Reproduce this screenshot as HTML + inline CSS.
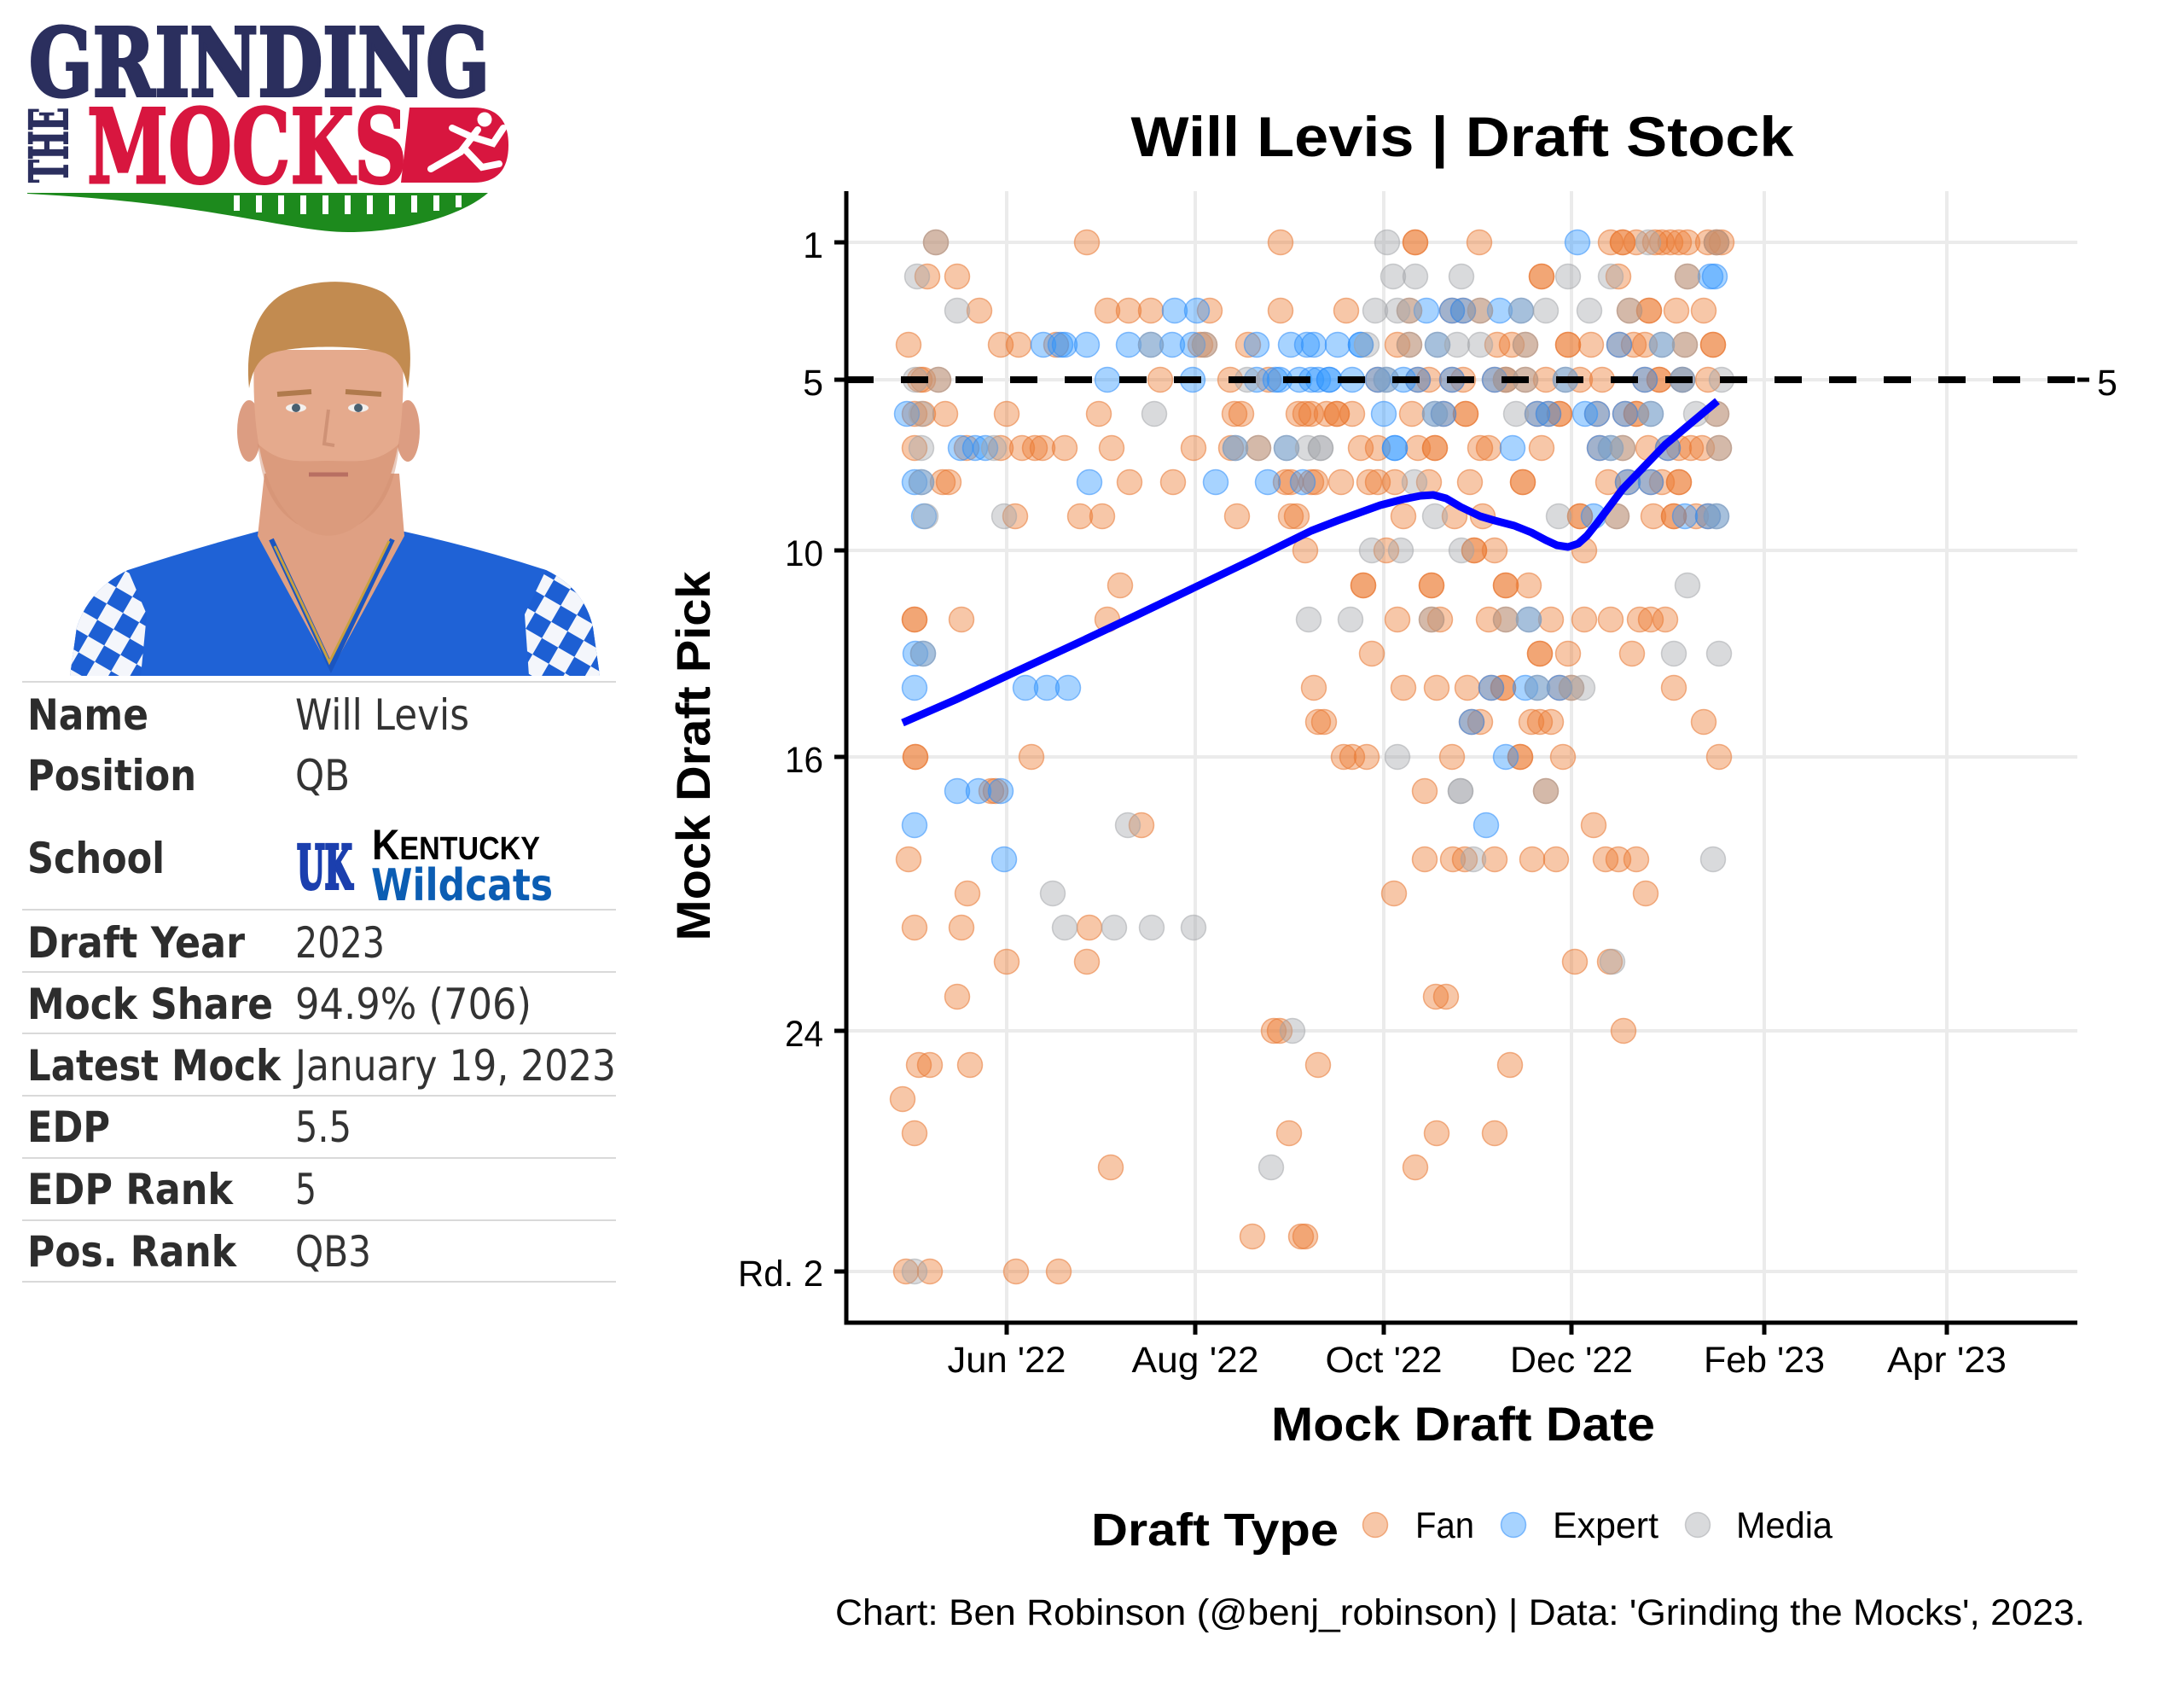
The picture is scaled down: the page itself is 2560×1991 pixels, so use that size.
<!DOCTYPE html>
<html><head><meta charset="utf-8"><style>
html,body{margin:0;padding:0;background:#fff;}
svg{display:block;}
.f{fill:rgba(236,122,48,0.42);stroke:rgba(232,118,50,0.55);stroke-width:1.5;}
.e{fill:rgba(45,150,255,0.42);stroke:rgba(45,140,250,0.55);stroke-width:1.5;}
.m{fill:rgba(165,168,172,0.42);stroke:rgba(160,162,166,0.5);stroke-width:1.5;}
.t{font-family:"Liberation Sans","DejaVu Sans",sans-serif;fill:#000;}
.tb{font-family:"Liberation Sans","DejaVu Sans",sans-serif;font-weight:bold;fill:#000;}
.lab{font-family:"DejaVu Sans","Liberation Sans",sans-serif;font-weight:bold;fill:#2d2d2d;font-size:50px;}
.val{font-family:"DejaVu Sans","Liberation Sans",sans-serif;fill:#333;font-size:50px;}
</style></head><body>
<svg width="2560" height="1991" viewBox="0 0 2560 1991" xmlns="http://www.w3.org/2000/svg">
<defs>
<pattern id="chk" width="44" height="44" patternUnits="userSpaceOnUse" patternTransform="rotate(30)">
<rect width="44" height="44" fill="#1d5fd3"/><rect width="22" height="22" fill="#f4f6fb"/><rect x="22" y="22" width="22" height="22" fill="#f4f6fb"/>
</pattern>
</defs>
<rect width="2560" height="1991" fill="#fff"/>

<!-- LOGO -->
<text x="34" y="112" font-family="DejaVu Serif, Liberation Serif, serif" font-weight="bold" font-size="110" fill="#2b2f5e" stroke="#2b2f5e" stroke-width="4" textLength="540" lengthAdjust="spacingAndGlyphs">GRINDING</text>
<text transform="translate(79,214) rotate(-90)" font-family="DejaVu Serif, Liberation Serif, serif" font-weight="bold" font-size="62" fill="#2b2f5e" stroke="#2b2f5e" stroke-width="2" textLength="88" lengthAdjust="spacingAndGlyphs">THE</text>
<path d="M480,126 L555,126 Q596,126 596,170 Q596,214 555,214 L470,214 Z" fill="#d8163f"/>
<text x="102" y="214" font-family="DejaVu Serif, Liberation Serif, serif" font-weight="bold" font-size="120" fill="#d8163f" stroke="#d8163f" stroke-width="3" textLength="375" lengthAdjust="spacingAndGlyphs">MOCKS</text>
<g fill="#fff" stroke="#fff" stroke-linecap="round">
<circle cx="568" cy="140" r="8"/>
<path d="M560,152 L540,178 L505,198 M545,175 L565,196 L585,192 M552,160 L578,168 L590,150 M552,160 L530,150" stroke-width="8" fill="none"/>
</g>
<path d="M32,226 L572,226 C545,250 480,272 408,272 C340,272 250,238 32,227 Z" fill="#1d8a1d"/>
<g fill="#fff">
<rect x="274" y="229" width="7" height="18"/><rect x="300" y="229" width="7" height="20"/><rect x="326" y="229" width="7" height="22"/><rect x="352" y="229" width="7" height="22"/><rect x="378" y="229" width="7" height="22"/><rect x="404" y="229" width="7" height="22"/><rect x="430" y="229" width="7" height="22"/><rect x="456" y="229" width="7" height="22"/><rect x="482" y="229" width="7" height="20"/><rect x="508" y="229" width="7" height="18"/><rect x="534" y="229" width="7" height="14"/>
</g>

<!-- PHOTO -->
<path d="M82,792 L90,735 Q105,690 150,668 Q230,642 305,622 L388,786 L470,622 Q560,642 640,668 Q685,690 695,735 L703,792 Z" fill="#1f62d6"/>
<path d="M82,792 L90,735 Q105,690 150,668 L172,720 L165,792 Z" fill="url(#chk)"/>
<path d="M703,792 L695,735 Q685,690 640,668 L615,720 L620,792 Z" fill="url(#chk)"/>
<path d="M310,555 L468,555 L474,628 L388,786 L302,628 Z" fill="#dfa083"/>
<path d="M318,632 L388,782 L460,632" fill="none" stroke="#1a55c0" stroke-width="6"/>
<path d="M322,640 Q360,720 386,776 Q414,720 456,634" fill="none" stroke="#c9a040" stroke-width="3"/>
<ellipse cx="292" cy="505" rx="14" ry="36" fill="#dc9d82"/>
<ellipse cx="478" cy="505" rx="14" ry="36" fill="#dc9d82"/>
<path d="M298,410 C294,520 310,580 350,615 C372,632 398,632 420,615 C460,580 476,520 472,410 Z" fill="#e5aa8d"/>
<path d="M302,520 C307,575 325,600 350,615 C372,632 398,632 420,615 C445,600 463,575 468,520 C440,545 420,540 385,540 C350,540 330,545 302,520 Z" fill="#cf8a6a" opacity="0.45"/>
<path d="M292,455 C286,395 305,352 345,338 C380,326 420,328 448,342 C478,360 486,405 478,455 C474,432 466,420 452,414 C420,404 350,404 318,414 C304,420 296,432 292,455 Z" fill="#c28b50"/>
<path d="M325,462 L365,459 M405,459 L447,462" stroke="#b07a4c" stroke-width="6" fill="none"/>
<ellipse cx="347" cy="478" rx="12" ry="5" fill="#f3f0ee"/><circle cx="347" cy="478" r="5" fill="#4a6070"/>
<ellipse cx="420" cy="478" rx="12" ry="5" fill="#f3f0ee"/><circle cx="420" cy="478" r="5" fill="#4a6070"/>
<path d="M385,480 L380,520 L392,522" stroke="#cf9276" stroke-width="4" fill="none"/>
<path d="M362,556 L408,556" stroke="#b86f62" stroke-width="5"/>

<!-- TABLE -->
<g stroke="#d9d9d9" stroke-width="2">
<line x1="26" y1="799" x2="722" y2="799"/><line x1="26" y1="1066" x2="722" y2="1066"/><line x1="26" y1="1139" x2="722" y2="1139"/><line x1="26" y1="1211" x2="722" y2="1211"/><line x1="26" y1="1284" x2="722" y2="1284"/><line x1="26" y1="1357" x2="722" y2="1357"/><line x1="26" y1="1430" x2="722" y2="1430"/><line x1="26" y1="1502" x2="722" y2="1502"/>
</g>
<text class="lab" x="32" y="855" textLength="142" lengthAdjust="spacingAndGlyphs">Name</text>
<text class="lab" x="32" y="926" textLength="198" lengthAdjust="spacingAndGlyphs">Position</text>
<text class="lab" x="32" y="1023" textLength="161" lengthAdjust="spacingAndGlyphs">School</text>
<text class="lab" x="32" y="1122" textLength="255" lengthAdjust="spacingAndGlyphs">Draft Year</text>
<text class="lab" x="32" y="1194" textLength="288" lengthAdjust="spacingAndGlyphs">Mock Share</text>
<text class="lab" x="32" y="1266" textLength="297" lengthAdjust="spacingAndGlyphs">Latest Mock</text>
<text class="lab" x="32" y="1338" textLength="97" lengthAdjust="spacingAndGlyphs">EDP</text>
<text class="lab" x="32" y="1411" textLength="241" lengthAdjust="spacingAndGlyphs">EDP Rank</text>
<text class="lab" x="32" y="1484" textLength="245" lengthAdjust="spacingAndGlyphs">Pos. Rank</text>
<text class="val" x="346" y="855" textLength="204" lengthAdjust="spacingAndGlyphs">Will Levis</text>
<text class="val" x="346" y="926" textLength="64" lengthAdjust="spacingAndGlyphs">QB</text>
<text class="val" x="346" y="1122" textLength="105" lengthAdjust="spacingAndGlyphs">2023</text>
<text class="val" x="346" y="1194" textLength="277" lengthAdjust="spacingAndGlyphs">94.9% (706)</text>
<text class="val" x="346" y="1266" textLength="376" lengthAdjust="spacingAndGlyphs">January 19, 2023</text>
<text class="val" x="346" y="1338" textLength="66" lengthAdjust="spacingAndGlyphs">5.5</text>
<text class="val" x="346" y="1411" textLength="25" lengthAdjust="spacingAndGlyphs">5</text>
<text class="val" x="346" y="1484" textLength="89" lengthAdjust="spacingAndGlyphs">QB3</text>
<text x="348" y="1041" font-family="DejaVu Serif, Liberation Serif, serif" font-weight="bold" font-size="70" fill="#1b3fae" stroke="#1b3fae" stroke-width="4" textLength="65" lengthAdjust="spacingAndGlyphs">UK</text>
<text x="436" y="1007" font-family="Liberation Sans, DejaVu Sans, sans-serif" font-weight="bold" fill="#000" textLength="197" lengthAdjust="spacingAndGlyphs"><tspan font-size="50">K</tspan><tspan font-size="38">ENTUCKY</tspan></text>
<text x="435" y="1055" font-family="DejaVu Sans, Liberation Sans, sans-serif" font-weight="bold" font-size="52" fill="#0b5db3" textLength="213" lengthAdjust="spacingAndGlyphs">Wildcats</text>

<!-- CHART TITLE -->
<text class="tb" x="1714" y="183" font-size="66" text-anchor="middle" textLength="777" lengthAdjust="spacingAndGlyphs">Will Levis | Draft Stock</text>

<!-- GRID -->
<g stroke="#ebebeb" stroke-width="4">
<line x1="994" y1="284" x2="2435" y2="284"/><line x1="994" y1="445" x2="2435" y2="445"/><line x1="994" y1="645" x2="2435" y2="645"/><line x1="994" y1="887" x2="2435" y2="887"/><line x1="994" y1="1208" x2="2435" y2="1208"/><line x1="994" y1="1490" x2="2435" y2="1490"/>
<line x1="1180" y1="224" x2="1180" y2="1548"/><line x1="1401" y1="224" x2="1401" y2="1548"/><line x1="1622" y1="224" x2="1622" y2="1548"/><line x1="1842" y1="224" x2="1842" y2="1548"/><line x1="2068" y1="224" x2="2068" y2="1548"/><line x1="2282" y1="224" x2="2282" y2="1548"/>
</g>

<!-- DOTS: FAN -->
<g class="f">
<circle cx="1097" cy="284" r="14.5"/><circle cx="1274" cy="284" r="14.5"/><circle cx="1501" cy="284" r="14.5"/><circle cx="1659" cy="284" r="14.5"/><circle cx="1659" cy="284" r="14.5"/><circle cx="1734" cy="284" r="14.5"/><circle cx="1888" cy="284" r="14.5"/><circle cx="1902" cy="284" r="14.5"/><circle cx="1902" cy="284" r="14.5"/><circle cx="1918" cy="284" r="14.5"/><circle cx="1940" cy="284" r="14.5"/><circle cx="1948" cy="284" r="14.5"/><circle cx="1958" cy="284" r="14.5"/><circle cx="1968" cy="284" r="14.5"/><circle cx="1978" cy="284" r="14.5"/><circle cx="2002" cy="284" r="14.5"/><circle cx="2012" cy="284" r="14.5"/><circle cx="2012" cy="284" r="14.5"/><circle cx="2018" cy="284" r="14.5"/>
<circle cx="1087" cy="324" r="14.5"/><circle cx="1122" cy="324" r="14.5"/><circle cx="1807" cy="324" r="14.5"/><circle cx="1807" cy="324" r="14.5"/><circle cx="1897" cy="324" r="14.5"/><circle cx="1978" cy="324" r="14.5"/>
<circle cx="1148" cy="364" r="14.5"/><circle cx="1298" cy="364" r="14.5"/><circle cx="1323" cy="364" r="14.5"/><circle cx="1349" cy="364" r="14.5"/><circle cx="1418" cy="364" r="14.5"/><circle cx="1501" cy="364" r="14.5"/><circle cx="1578" cy="364" r="14.5"/><circle cx="1652" cy="364" r="14.5"/><circle cx="1702" cy="364" r="14.5"/><circle cx="1715" cy="364" r="14.5"/><circle cx="1735" cy="364" r="14.5"/><circle cx="1910" cy="364" r="14.5"/><circle cx="1933" cy="364" r="14.5"/><circle cx="1933" cy="364" r="14.5"/><circle cx="1965" cy="364" r="14.5"/><circle cx="1997" cy="364" r="14.5"/>
<circle cx="1065" cy="404" r="14.5"/><circle cx="1173" cy="404" r="14.5"/><circle cx="1194" cy="404" r="14.5"/><circle cx="1238" cy="404" r="14.5"/><circle cx="1407" cy="404" r="14.5"/><circle cx="1412" cy="404" r="14.5"/><circle cx="1463" cy="404" r="14.5"/><circle cx="1638" cy="404" r="14.5"/><circle cx="1652" cy="404" r="14.5"/><circle cx="1755" cy="404" r="14.5"/><circle cx="1772" cy="404" r="14.5"/><circle cx="1788" cy="404" r="14.5"/><circle cx="1838" cy="404" r="14.5"/><circle cx="1838" cy="404" r="14.5"/><circle cx="1865" cy="404" r="14.5"/><circle cx="1898" cy="404" r="14.5"/><circle cx="1915" cy="404" r="14.5"/><circle cx="1928" cy="404" r="14.5"/><circle cx="1975" cy="404" r="14.5"/><circle cx="2008" cy="404" r="14.5"/><circle cx="2008" cy="404" r="14.5"/>
<circle cx="1078" cy="445" r="14.5"/><circle cx="1082" cy="445" r="14.5"/><circle cx="1100" cy="445" r="14.5"/><circle cx="1360" cy="445" r="14.5"/><circle cx="1442" cy="445" r="14.5"/><circle cx="1487" cy="445" r="14.5"/><circle cx="1615" cy="445" r="14.5"/><circle cx="1662" cy="445" r="14.5"/><circle cx="1675" cy="445" r="14.5"/><circle cx="1702" cy="445" r="14.5"/><circle cx="1715" cy="445" r="14.5"/><circle cx="1752" cy="445" r="14.5"/><circle cx="1765" cy="445" r="14.5"/><circle cx="1765" cy="445" r="14.5"/><circle cx="1788" cy="445" r="14.5"/><circle cx="1812" cy="445" r="14.5"/><circle cx="1852" cy="445" r="14.5"/><circle cx="1878" cy="445" r="14.5"/><circle cx="1928" cy="445" r="14.5"/><circle cx="1945" cy="445" r="14.5"/><circle cx="1945" cy="445" r="14.5"/><circle cx="1972" cy="445" r="14.5"/><circle cx="2002" cy="445" r="14.5"/>
<circle cx="1072" cy="485" r="14.5"/><circle cx="1082" cy="485" r="14.5"/><circle cx="1108" cy="485" r="14.5"/><circle cx="1180" cy="485" r="14.5"/><circle cx="1288" cy="485" r="14.5"/><circle cx="1447" cy="485" r="14.5"/><circle cx="1455" cy="485" r="14.5"/><circle cx="1522" cy="485" r="14.5"/><circle cx="1530" cy="485" r="14.5"/><circle cx="1537" cy="485" r="14.5"/><circle cx="1555" cy="485" r="14.5"/><circle cx="1567" cy="485" r="14.5"/><circle cx="1567" cy="485" r="14.5"/><circle cx="1585" cy="485" r="14.5"/><circle cx="1655" cy="485" r="14.5"/><circle cx="1692" cy="485" r="14.5"/><circle cx="1718" cy="485" r="14.5"/><circle cx="1718" cy="485" r="14.5"/><circle cx="1802" cy="485" r="14.5"/><circle cx="1815" cy="485" r="14.5"/><circle cx="1828" cy="485" r="14.5"/><circle cx="1828" cy="485" r="14.5"/><circle cx="1872" cy="485" r="14.5"/><circle cx="1905" cy="485" r="14.5"/><circle cx="1918" cy="485" r="14.5"/><circle cx="1918" cy="485" r="14.5"/><circle cx="2012" cy="485" r="14.5"/>
<circle cx="1072" cy="525" r="14.5"/><circle cx="1133" cy="525" r="14.5"/><circle cx="1173" cy="525" r="14.5"/><circle cx="1198" cy="525" r="14.5"/><circle cx="1213" cy="525" r="14.5"/><circle cx="1222" cy="525" r="14.5"/><circle cx="1248" cy="525" r="14.5"/><circle cx="1303" cy="525" r="14.5"/><circle cx="1399" cy="525" r="14.5"/><circle cx="1443" cy="525" r="14.5"/><circle cx="1475" cy="525" r="14.5"/><circle cx="1595" cy="525" r="14.5"/><circle cx="1615" cy="525" r="14.5"/><circle cx="1662" cy="525" r="14.5"/><circle cx="1682" cy="525" r="14.5"/><circle cx="1682" cy="525" r="14.5"/><circle cx="1735" cy="525" r="14.5"/><circle cx="1745" cy="525" r="14.5"/><circle cx="1807" cy="525" r="14.5"/><circle cx="1875" cy="525" r="14.5"/><circle cx="1902" cy="525" r="14.5"/><circle cx="1932" cy="525" r="14.5"/><circle cx="1955" cy="525" r="14.5"/><circle cx="1968" cy="525" r="14.5"/><circle cx="1982" cy="525" r="14.5"/><circle cx="1995" cy="525" r="14.5"/><circle cx="2015" cy="525" r="14.5"/>
<circle cx="1105" cy="565" r="14.5"/><circle cx="1112" cy="565" r="14.5"/><circle cx="1324" cy="565" r="14.5"/><circle cx="1375" cy="565" r="14.5"/><circle cx="1507" cy="565" r="14.5"/><circle cx="1513" cy="565" r="14.5"/><circle cx="1537" cy="565" r="14.5"/><circle cx="1542" cy="565" r="14.5"/><circle cx="1572" cy="565" r="14.5"/><circle cx="1605" cy="565" r="14.5"/><circle cx="1615" cy="565" r="14.5"/><circle cx="1635" cy="565" r="14.5"/><circle cx="1675" cy="565" r="14.5"/><circle cx="1723" cy="565" r="14.5"/><circle cx="1785" cy="565" r="14.5"/><circle cx="1785" cy="565" r="14.5"/><circle cx="1885" cy="565" r="14.5"/><circle cx="1908" cy="565" r="14.5"/><circle cx="1935" cy="565" r="14.5"/><circle cx="1948" cy="565" r="14.5"/><circle cx="1968" cy="565" r="14.5"/><circle cx="1968" cy="565" r="14.5"/>
<circle cx="1190" cy="605" r="14.5"/><circle cx="1266" cy="605" r="14.5"/><circle cx="1292" cy="605" r="14.5"/><circle cx="1450" cy="605" r="14.5"/><circle cx="1513" cy="605" r="14.5"/><circle cx="1520" cy="605" r="14.5"/><circle cx="1645" cy="605" r="14.5"/><circle cx="1705" cy="605" r="14.5"/><circle cx="1738" cy="605" r="14.5"/><circle cx="1852" cy="605" r="14.5"/><circle cx="1852" cy="605" r="14.5"/><circle cx="1895" cy="605" r="14.5"/><circle cx="1938" cy="605" r="14.5"/><circle cx="1962" cy="605" r="14.5"/><circle cx="1962" cy="605" r="14.5"/><circle cx="1988" cy="605" r="14.5"/><circle cx="2002" cy="605" r="14.5"/>
<circle cx="1530" cy="645" r="14.5"/><circle cx="1625" cy="645" r="14.5"/><circle cx="1728" cy="645" r="14.5"/><circle cx="1728" cy="645" r="14.5"/><circle cx="1752" cy="645" r="14.5"/><circle cx="1857" cy="645" r="14.5"/>
<circle cx="1313" cy="686" r="14.5"/><circle cx="1598" cy="686" r="14.5"/><circle cx="1598" cy="686" r="14.5"/><circle cx="1678" cy="686" r="14.5"/><circle cx="1678" cy="686" r="14.5"/><circle cx="1765" cy="686" r="14.5"/><circle cx="1765" cy="686" r="14.5"/><circle cx="1792" cy="686" r="14.5"/>
<circle cx="1072" cy="726" r="14.5"/><circle cx="1072" cy="726" r="14.5"/><circle cx="1127" cy="726" r="14.5"/><circle cx="1298" cy="726" r="14.5"/><circle cx="1638" cy="726" r="14.5"/><circle cx="1678" cy="726" r="14.5"/><circle cx="1688" cy="726" r="14.5"/><circle cx="1745" cy="726" r="14.5"/><circle cx="1765" cy="726" r="14.5"/><circle cx="1818" cy="726" r="14.5"/><circle cx="1857" cy="726" r="14.5"/><circle cx="1888" cy="726" r="14.5"/><circle cx="1922" cy="726" r="14.5"/><circle cx="1935" cy="726" r="14.5"/><circle cx="1952" cy="726" r="14.5"/>
<circle cx="1608" cy="766" r="14.5"/><circle cx="1805" cy="766" r="14.5"/><circle cx="1805" cy="766" r="14.5"/><circle cx="1838" cy="766" r="14.5"/><circle cx="1913" cy="766" r="14.5"/>
<circle cx="1540" cy="806" r="14.5"/><circle cx="1645" cy="806" r="14.5"/><circle cx="1684" cy="806" r="14.5"/><circle cx="1720" cy="806" r="14.5"/><circle cx="1748" cy="806" r="14.5"/><circle cx="1762" cy="806" r="14.5"/><circle cx="1762" cy="806" r="14.5"/><circle cx="1828" cy="806" r="14.5"/><circle cx="1842" cy="806" r="14.5"/><circle cx="1962" cy="806" r="14.5"/>
<circle cx="1545" cy="846" r="14.5"/><circle cx="1552" cy="846" r="14.5"/><circle cx="1725" cy="846" r="14.5"/><circle cx="1735" cy="846" r="14.5"/><circle cx="1795" cy="846" r="14.5"/><circle cx="1805" cy="846" r="14.5"/><circle cx="1818" cy="846" r="14.5"/><circle cx="1997" cy="846" r="14.5"/>
<circle cx="1073" cy="887" r="14.5"/><circle cx="1073" cy="887" r="14.5"/><circle cx="1209" cy="887" r="14.5"/><circle cx="1575" cy="887" r="14.5"/><circle cx="1585" cy="887" r="14.5"/><circle cx="1602" cy="887" r="14.5"/><circle cx="1702" cy="887" r="14.5"/><circle cx="1782" cy="887" r="14.5"/><circle cx="1782" cy="887" r="14.5"/><circle cx="1832" cy="887" r="14.5"/><circle cx="2015" cy="887" r="14.5"/>
<circle cx="1162" cy="927" r="14.5"/><circle cx="1167" cy="927" r="14.5"/><circle cx="1670" cy="927" r="14.5"/><circle cx="1812" cy="927" r="14.5"/>
<circle cx="1338" cy="967" r="14.5"/><circle cx="1868" cy="967" r="14.5"/>
<circle cx="1065" cy="1007" r="14.5"/><circle cx="1670" cy="1007" r="14.5"/><circle cx="1703" cy="1007" r="14.5"/><circle cx="1717" cy="1007" r="14.5"/><circle cx="1752" cy="1007" r="14.5"/><circle cx="1796" cy="1007" r="14.5"/><circle cx="1824" cy="1007" r="14.5"/><circle cx="1882" cy="1007" r="14.5"/><circle cx="1897" cy="1007" r="14.5"/><circle cx="1918" cy="1007" r="14.5"/>
<circle cx="1134" cy="1047" r="14.5"/><circle cx="1634" cy="1047" r="14.5"/><circle cx="1929" cy="1047" r="14.5"/>
<circle cx="1072" cy="1087" r="14.5"/><circle cx="1127" cy="1087" r="14.5"/><circle cx="1277" cy="1087" r="14.5"/>
<circle cx="1180" cy="1127" r="14.5"/><circle cx="1274" cy="1127" r="14.5"/><circle cx="1846" cy="1127" r="14.5"/><circle cx="1887" cy="1127" r="14.5"/>
<circle cx="1122" cy="1168" r="14.5"/><circle cx="1683" cy="1168" r="14.5"/><circle cx="1695" cy="1168" r="14.5"/>
<circle cx="1493" cy="1208" r="14.5"/><circle cx="1500" cy="1208" r="14.5"/><circle cx="1903" cy="1208" r="14.5"/>
<circle cx="1077" cy="1248" r="14.5"/><circle cx="1090" cy="1248" r="14.5"/><circle cx="1137" cy="1248" r="14.5"/><circle cx="1545" cy="1248" r="14.5"/><circle cx="1770" cy="1248" r="14.5"/>
<circle cx="1058" cy="1288" r="14.5"/>
<circle cx="1072" cy="1328" r="14.5"/><circle cx="1511" cy="1328" r="14.5"/><circle cx="1684" cy="1328" r="14.5"/><circle cx="1752" cy="1328" r="14.5"/>
<circle cx="1302" cy="1368" r="14.5"/><circle cx="1659" cy="1368" r="14.5"/>
<circle cx="1468" cy="1449" r="14.5"/><circle cx="1525" cy="1449" r="14.5"/><circle cx="1530" cy="1449" r="14.5"/>
<circle cx="1062" cy="1490" r="14.5"/><circle cx="1090" cy="1490" r="14.5"/><circle cx="1191" cy="1490" r="14.5"/><circle cx="1241" cy="1490" r="14.5"/>
</g>

<!-- DOTS: EXPERT -->
<g class="e">
<circle cx="1849" cy="284" r="14.5"/>
<circle cx="2005" cy="324" r="14.5"/><circle cx="2010" cy="324" r="14.5"/>
<circle cx="1377" cy="364" r="14.5"/><circle cx="1403" cy="364" r="14.5"/><circle cx="1672" cy="364" r="14.5"/><circle cx="1702" cy="364" r="14.5"/><circle cx="1715" cy="364" r="14.5"/><circle cx="1758" cy="364" r="14.5"/><circle cx="1783" cy="364" r="14.5"/>
<circle cx="1223" cy="404" r="14.5"/><circle cx="1243" cy="404" r="14.5"/><circle cx="1248" cy="404" r="14.5"/><circle cx="1274" cy="404" r="14.5"/><circle cx="1323" cy="404" r="14.5"/><circle cx="1349" cy="404" r="14.5"/><circle cx="1374" cy="404" r="14.5"/><circle cx="1398" cy="404" r="14.5"/><circle cx="1473" cy="404" r="14.5"/><circle cx="1513" cy="404" r="14.5"/><circle cx="1532" cy="404" r="14.5"/><circle cx="1540" cy="404" r="14.5"/><circle cx="1568" cy="404" r="14.5"/><circle cx="1595" cy="404" r="14.5"/><circle cx="1595" cy="404" r="14.5"/><circle cx="1685" cy="404" r="14.5"/><circle cx="1898" cy="404" r="14.5"/><circle cx="1948" cy="404" r="14.5"/>
<circle cx="1298" cy="445" r="14.5"/><circle cx="1398" cy="445" r="14.5"/><circle cx="1473" cy="445" r="14.5"/><circle cx="1495" cy="445" r="14.5"/><circle cx="1500" cy="445" r="14.5"/><circle cx="1523" cy="445" r="14.5"/><circle cx="1537" cy="445" r="14.5"/><circle cx="1545" cy="445" r="14.5"/><circle cx="1558" cy="445" r="14.5"/><circle cx="1558" cy="445" r="14.5"/><circle cx="1585" cy="445" r="14.5"/><circle cx="1615" cy="445" r="14.5"/><circle cx="1625" cy="445" r="14.5"/><circle cx="1645" cy="445" r="14.5"/><circle cx="1662" cy="445" r="14.5"/><circle cx="1702" cy="445" r="14.5"/><circle cx="1752" cy="445" r="14.5"/><circle cx="1835" cy="445" r="14.5"/><circle cx="1928" cy="445" r="14.5"/><circle cx="1972" cy="445" r="14.5"/>
<circle cx="1063" cy="485" r="14.5"/><circle cx="1622" cy="485" r="14.5"/><circle cx="1682" cy="485" r="14.5"/><circle cx="1692" cy="485" r="14.5"/><circle cx="1802" cy="485" r="14.5"/><circle cx="1815" cy="485" r="14.5"/><circle cx="1858" cy="485" r="14.5"/><circle cx="1872" cy="485" r="14.5"/><circle cx="1905" cy="485" r="14.5"/><circle cx="1935" cy="485" r="14.5"/>
<circle cx="1126" cy="525" r="14.5"/><circle cx="1143" cy="525" r="14.5"/><circle cx="1155" cy="525" r="14.5"/><circle cx="1448" cy="525" r="14.5"/><circle cx="1508" cy="525" r="14.5"/><circle cx="1635" cy="525" r="14.5"/><circle cx="1635" cy="525" r="14.5"/><circle cx="1773" cy="525" r="14.5"/><circle cx="1875" cy="525" r="14.5"/><circle cx="1888" cy="525" r="14.5"/><circle cx="1955" cy="525" r="14.5"/>
<circle cx="1072" cy="565" r="14.5"/><circle cx="1080" cy="565" r="14.5"/><circle cx="1277" cy="565" r="14.5"/><circle cx="1425" cy="565" r="14.5"/><circle cx="1486" cy="565" r="14.5"/><circle cx="1527" cy="565" r="14.5"/><circle cx="1908" cy="565" r="14.5"/><circle cx="1935" cy="565" r="14.5"/>
<circle cx="1083" cy="605" r="14.5"/><circle cx="1868" cy="605" r="14.5"/><circle cx="1975" cy="605" r="14.5"/><circle cx="2002" cy="605" r="14.5"/><circle cx="2012" cy="605" r="14.5"/>
<circle cx="1792" cy="726" r="14.5"/>
<circle cx="1073" cy="766" r="14.5"/><circle cx="1082" cy="766" r="14.5"/>
<circle cx="1072" cy="806" r="14.5"/><circle cx="1202" cy="806" r="14.5"/><circle cx="1227" cy="806" r="14.5"/><circle cx="1252" cy="806" r="14.5"/><circle cx="1748" cy="806" r="14.5"/><circle cx="1788" cy="806" r="14.5"/><circle cx="1802" cy="806" r="14.5"/><circle cx="1828" cy="806" r="14.5"/>
<circle cx="1725" cy="846" r="14.5"/>
<circle cx="1765" cy="887" r="14.5"/>
<circle cx="1122" cy="927" r="14.5"/><circle cx="1147" cy="927" r="14.5"/><circle cx="1173" cy="927" r="14.5"/>
<circle cx="1072" cy="967" r="14.5"/><circle cx="1742" cy="967" r="14.5"/>
<circle cx="1177" cy="1007" r="14.5"/>
</g>

<!-- DOTS: MEDIA -->
<g class="m">
<circle cx="1097" cy="284" r="14.5"/><circle cx="1626" cy="284" r="14.5"/><circle cx="1932" cy="284" r="14.5"/><circle cx="2012" cy="284" r="14.5"/>
<circle cx="1075" cy="324" r="14.5"/><circle cx="1633" cy="324" r="14.5"/><circle cx="1659" cy="324" r="14.5"/><circle cx="1713" cy="324" r="14.5"/><circle cx="1838" cy="324" r="14.5"/><circle cx="1888" cy="324" r="14.5"/><circle cx="1978" cy="324" r="14.5"/>
<circle cx="1122" cy="364" r="14.5"/><circle cx="1612" cy="364" r="14.5"/><circle cx="1638" cy="364" r="14.5"/><circle cx="1652" cy="364" r="14.5"/><circle cx="1735" cy="364" r="14.5"/><circle cx="1783" cy="364" r="14.5"/><circle cx="1812" cy="364" r="14.5"/><circle cx="1863" cy="364" r="14.5"/><circle cx="1910" cy="364" r="14.5"/>
<circle cx="1349" cy="404" r="14.5"/><circle cx="1412" cy="404" r="14.5"/><circle cx="1602" cy="404" r="14.5"/><circle cx="1652" cy="404" r="14.5"/><circle cx="1685" cy="404" r="14.5"/><circle cx="1708" cy="404" r="14.5"/><circle cx="1735" cy="404" r="14.5"/><circle cx="1788" cy="404" r="14.5"/><circle cx="1948" cy="404" r="14.5"/><circle cx="1975" cy="404" r="14.5"/>
<circle cx="1073" cy="445" r="14.5"/><circle cx="1100" cy="445" r="14.5"/><circle cx="1462" cy="445" r="14.5"/><circle cx="1625" cy="445" r="14.5"/><circle cx="1765" cy="445" r="14.5"/><circle cx="1788" cy="445" r="14.5"/><circle cx="1835" cy="445" r="14.5"/><circle cx="1972" cy="445" r="14.5"/><circle cx="2018" cy="445" r="14.5"/>
<circle cx="1080" cy="485" r="14.5"/><circle cx="1353" cy="485" r="14.5"/><circle cx="1682" cy="485" r="14.5"/><circle cx="1777" cy="485" r="14.5"/><circle cx="1935" cy="485" r="14.5"/><circle cx="1988" cy="485" r="14.5"/><circle cx="2012" cy="485" r="14.5"/>
<circle cx="1080" cy="525" r="14.5"/><circle cx="1165" cy="525" r="14.5"/><circle cx="1448" cy="525" r="14.5"/><circle cx="1475" cy="525" r="14.5"/><circle cx="1508" cy="525" r="14.5"/><circle cx="1533" cy="525" r="14.5"/><circle cx="1548" cy="525" r="14.5"/><circle cx="1548" cy="525" r="14.5"/><circle cx="1888" cy="525" r="14.5"/><circle cx="1902" cy="525" r="14.5"/><circle cx="2015" cy="525" r="14.5"/>
<circle cx="1080" cy="565" r="14.5"/><circle cx="1658" cy="565" r="14.5"/>
<circle cx="1085" cy="605" r="14.5"/><circle cx="1177" cy="605" r="14.5"/><circle cx="1682" cy="605" r="14.5"/><circle cx="1827" cy="605" r="14.5"/><circle cx="1895" cy="605" r="14.5"/><circle cx="2012" cy="605" r="14.5"/>
<circle cx="1608" cy="645" r="14.5"/><circle cx="1642" cy="645" r="14.5"/><circle cx="1713" cy="645" r="14.5"/>
<circle cx="1978" cy="686" r="14.5"/>
<circle cx="1534" cy="726" r="14.5"/><circle cx="1583" cy="726" r="14.5"/><circle cx="1678" cy="726" r="14.5"/><circle cx="1765" cy="726" r="14.5"/><circle cx="1792" cy="726" r="14.5"/>
<circle cx="1082" cy="766" r="14.5"/><circle cx="1962" cy="766" r="14.5"/><circle cx="2015" cy="766" r="14.5"/>
<circle cx="1802" cy="806" r="14.5"/><circle cx="1842" cy="806" r="14.5"/><circle cx="1855" cy="806" r="14.5"/>
<circle cx="1638" cy="887" r="14.5"/>
<circle cx="1712" cy="927" r="14.5"/><circle cx="1712" cy="927" r="14.5"/><circle cx="1812" cy="927" r="14.5"/>
<circle cx="1322" cy="967" r="14.5"/>
<circle cx="1727" cy="1007" r="14.5"/><circle cx="2008" cy="1007" r="14.5"/>
<circle cx="1234" cy="1047" r="14.5"/>
<circle cx="1248" cy="1087" r="14.5"/><circle cx="1306" cy="1087" r="14.5"/><circle cx="1350" cy="1087" r="14.5"/><circle cx="1399" cy="1087" r="14.5"/>
<circle cx="1890" cy="1127" r="14.5"/>
<circle cx="1515" cy="1208" r="14.5"/>
<circle cx="1490" cy="1368" r="14.5"/>
<circle cx="1072" cy="1490" r="14.5"/>
</g>

<!-- SMOOTH LINE -->
<polyline points="1058,847 1120,820 1180,792 1260,755 1330,722 1399,689 1470,655 1537,622 1568,610 1618,592 1645,585 1665,581 1680,580 1695,584 1712,594 1735,605 1752,610 1775,616 1795,624 1812,633 1825,639 1838,641 1850,637 1860,628 1872,613 1902,573 1952,521 2013,470" fill="none" stroke="#0000ff" stroke-width="9" stroke-linejoin="round" stroke-linecap="butt"/>

<!-- DASHED LINE -->
<line x1="992" y1="445" x2="2432" y2="445" stroke="#000" stroke-width="8" stroke-dasharray="32 32"/>
<line x1="2435" y1="445" x2="2449" y2="445" stroke="#000" stroke-width="5"/>
<text class="t" x="2458" y="463" font-size="43">5</text>

<!-- AXES -->
<line x1="992" y1="224" x2="992" y2="1552.5" stroke="#000" stroke-width="5"/>
<line x1="989.5" y1="1550" x2="2435" y2="1550" stroke="#000" stroke-width="5"/>
<g stroke="#000" stroke-width="5">
<line x1="978" y1="284" x2="992" y2="284"/><line x1="978" y1="445" x2="992" y2="445"/><line x1="978" y1="645" x2="992" y2="645"/><line x1="978" y1="887" x2="992" y2="887"/><line x1="978" y1="1208" x2="992" y2="1208"/><line x1="978" y1="1490" x2="992" y2="1490"/>
<line x1="1180" y1="1550" x2="1180" y2="1564"/><line x1="1401" y1="1550" x2="1401" y2="1564"/><line x1="1622" y1="1550" x2="1622" y2="1564"/><line x1="1842" y1="1550" x2="1842" y2="1564"/><line x1="2068" y1="1550" x2="2068" y2="1564"/><line x1="2282" y1="1550" x2="2282" y2="1564"/>
</g>
<g class="t" font-size="43" text-anchor="end">
<text x="965" y="302">1</text>
<text x="965" y="463">5</text>
<text x="965" y="663" textLength="45" lengthAdjust="spacingAndGlyphs">10</text>
<text x="965" y="905" textLength="45" lengthAdjust="spacingAndGlyphs">16</text>
<text x="965" y="1226" textLength="45" lengthAdjust="spacingAndGlyphs">24</text>
<text x="965" y="1507" textLength="100" lengthAdjust="spacingAndGlyphs">Rd. 2</text>
</g>
<g class="t" font-size="43" text-anchor="middle">
<text x="1180" y="1608" textLength="139" lengthAdjust="spacingAndGlyphs">Jun '22</text>
<text x="1401" y="1608" textLength="149" lengthAdjust="spacingAndGlyphs">Aug '22</text>
<text x="1622" y="1608" textLength="137" lengthAdjust="spacingAndGlyphs">Oct '22</text>
<text x="1842" y="1608" textLength="144" lengthAdjust="spacingAndGlyphs">Dec '22</text>
<text x="2068" y="1608" textLength="142" lengthAdjust="spacingAndGlyphs">Feb '23</text>
<text x="2282" y="1608" textLength="140" lengthAdjust="spacingAndGlyphs">Apr '23</text>
</g>

<!-- AXIS TITLES -->
<text class="tb" x="1715" y="1688" font-size="56" text-anchor="middle" textLength="450" lengthAdjust="spacingAndGlyphs">Mock Draft Date</text>
<text class="tb" transform="translate(832,886) rotate(-90)" font-size="56" text-anchor="middle" textLength="433" lengthAdjust="spacingAndGlyphs">Mock Draft Pick</text>

<!-- LEGEND -->
<text class="tb" x="1279" y="1811" font-size="54" textLength="290" lengthAdjust="spacingAndGlyphs">Draft Type</text>
<circle class="f" cx="1612" cy="1787" r="14.5"/>
<text class="t" x="1659" y="1802" font-size="43" textLength="69" lengthAdjust="spacingAndGlyphs">Fan</text>
<circle class="e" cx="1774" cy="1787" r="14.5"/>
<text class="t" x="1820" y="1802" font-size="43" textLength="124" lengthAdjust="spacingAndGlyphs">Expert</text>
<circle class="m" cx="1990" cy="1787" r="14.5"/>
<text class="t" x="2035" y="1802" font-size="43" textLength="113" lengthAdjust="spacingAndGlyphs">Media</text>

<!-- CAPTION -->
<text class="t" x="979" y="1904" font-size="43" textLength="1465" lengthAdjust="spacingAndGlyphs">Chart: Ben Robinson (@benj_robinson) | Data: 'Grinding the Mocks', 2023.</text>
</svg>
</body></html>
